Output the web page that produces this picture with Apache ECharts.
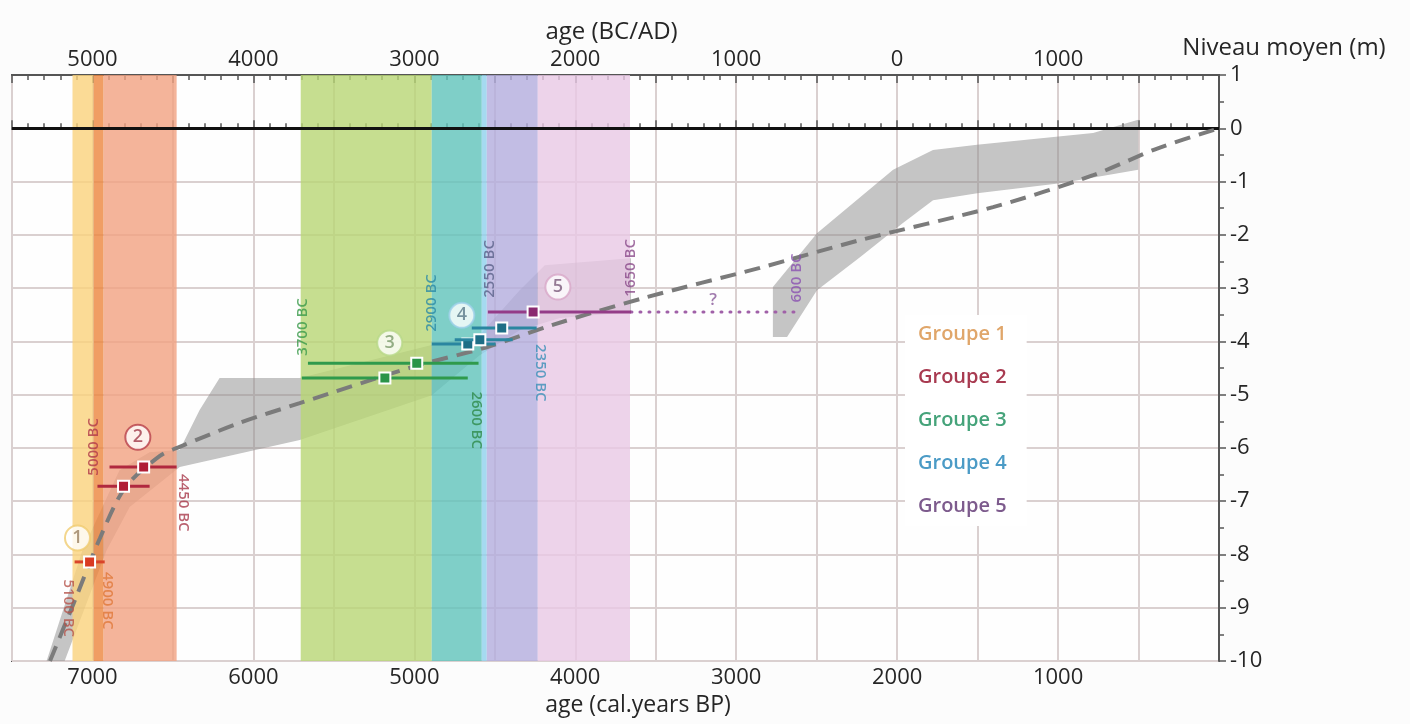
<!DOCTYPE html>
<html><head><meta charset="utf-8">
<script src="https://cdn.jsdelivr.net/npm/echarts@6/dist/echarts.min.js"></script>
<style>html,body{margin:0;padding:0;background:#fcfcfc}#chart{width:1410px;height:724px}</style>
</head><body><div id="chart"></div>
<script>
// ---------------- data ----------------
const groupNames = ['Groupe 1', 'Groupe 2', 'Groupe 3', 'Groupe 4', 'Groupe 5'];
// occupation period of each group, cal. years BP [start, end]
const groupRanges = [[7124, 6931], [6993, 6477], [5706, 4581], [4892, 4233], [4550, 3660]];
// dated levels: [from BP, to BP, level (m), central BP]
const g1Points = [[7111, 6924, -8.14, 7018]];
const g2Points = [[6894, 6477, -6.36, 6682], [6969, 6645, -6.72, 6807]];
const g3Points = [[5661, 4601, -4.41, 4985], [5699, 4668, -4.69, 5183]];
const g4Points = [[4892, 4495, -4.05, 4668], [4749, 4389, -3.97, 4593], [4643, 4240, -3.75, 4457]];
const g5Points = [[4543, 3654, -3.45, 4262]];
const g5Extension = [[3654, -3.45], [2604, -3.45]];
// mean sea-level curve (dashed)
const seaLevelCurve = [[7264, -10], [7109, -8.86], [6953, -7.69], [6798, -6.75], [6581, -6.15], [6458, -5.98],
  [6085, -5.53], [5712, -5.16], [5010, -4.48], [4551, -4.11], [4140, -3.69], [3580, -3.19], [2853, -2.62],
  [2231, -2.10], [1404, -1.48], [782, -0.88], [384, -0.38], [0, 0]];
// uncertainty envelopes (upper edge then lower edge)
const envelopeA = [[7285, -10], [7062, -7.92], [6938, -7.11], [6832, -6.42], [6645, -6.08], [6458, -6.04],
  [6334, -5.29], [6210, -4.69], [5712, -4.69], [4892, -4.07], [4594, -3.88], [4345, -3.04], [4189, -2.57], [3654, -2.44],
  [3654, -3.45], [4096, -3.56], [4345, -3.79], [4594, -4.26], [4892, -5.01], [5712, -5.85], [6458, -6.36],
  [6769, -7.11], [6912, -7.92], [7173, -10]];
const envelopeB = [[2772, -2.98], [2498, -1.97], [2025, -0.78], [1777, -0.41], [1503, -0.31], [782, -0.09], [502, 0.16],
  [502, -0.78], [987, -1.03], [1503, -1.22], [1777, -1.35], [1964, -1.78], [2231, -2.42], [2498, -3.04], [2684, -3.92], [2772, -3.92]];
// circled group numbers [BP, m, text]
const circleLabels = [[7093, -7.69, '1'], [6718, -5.80, '2'], [5153, -4.03, '3'], [4705, -3.51, '4'], [4108, -2.98, '5']];
// date annotations [BP, m, text]
const dateLabels = [[7152, -9.01, '5100 BC'], [6910, -8.87, '4900 BC'], [6990, -5.98, '5000 BC'], [6437, -7.03, '4450 BC'],
  [5692, -3.73, '3700 BC'], [4617, -5.48, '2600 BC'], [4890, -3.28, '2900 BC'], [4219, -4.59, '2350 BC'],
  [4530, -2.64, '2550 BC'], [3654, -2.62, '1650 BC'], [2622, -2.81, '600 BC'], [3144, -3.22, '?']];
// calendar (BC/AD) axis range, signed years (negative = BC)
const calendarRange = [-5500, 2000];

// ---------------- styles ----------------
const FONT = '"Open Sans", sans-serif';
const bandColors = { '1': '#fad27c', '1+2': '#ec863d', '2': '#f1a181', '3': '#b8d674', '3+4': '#5fc3ba', '4': '#8ed1ec', '4+5': '#b3acdd', '5': '#e8c8e5' };
const barColors = ['#d9442a', '#b0283e', '#2f9a4c', '#2a86a0', '#943c88'];
const squareColors = ['#d93a22', '#b01e36', '#2a9448', '#1e6e86', '#8a2a70'];
const legendColors = ['#e0a66a', '#a83a50', '#45a37a', '#4b9bc6', '#7d5b8d'];
const circleBorder = ['#f0cc70', '#b8404a', '#b8d888', '#9cd0e8', '#d8a8c8'];
const circleText = ['#9a8060', '#a03a48', '#7a9a6a', '#5a7a8a', '#7a5a7a'];
const dateLabelColors = ['#b5534a', '#e07838', '#b0384a', '#a8384a', '#3a9a4a', '#2e8a48', '#2a8aa6', '#3a90b8', '#5a6088', '#8a4a8a', '#8a50b0', '#8a5a9a'];
const dateLabelRotate = [-90, -90, 90, -90, 90, -90, 90, -90, 90, 90, 90, 0];

// band segments derived from group ranges (overlaps get their own tint)
const bounds = [...new Set(groupRanges.flat())].sort((a, b) => b - a);
const bandSegs = [];
for (let i = 0; i < bounds.length - 1; i++) {
  const a = bounds[i], b = bounds[i + 1], mid = (a + b) / 2;
  const active = groupRanges.map((r, gi) => (mid <= r[0] && mid >= r[1]) ? gi + 1 : 0).filter(Boolean);
  if (active.length) bandSegs.push({ from: a, to: b, key: active.join('+') });
}

function errorBarSeries(idx, data) {
  return {
    name: groupNames[idx], type: 'custom', z: 7,
    data: data,
    encode: { x: [0, 1, 3], y: 2 },
    renderItem: function (params, api) {
      const y = api.value(2);
      const lo = api.coord([api.value(0), y]);
      const hi = api.coord([api.value(1), y]);
      const c = api.coord([api.value(3), y]);
      const s = 11;
      return {
        type: 'group', children: [
          { type: 'line', shape: { x1: lo[0], y1: lo[1], x2: hi[0], y2: hi[1] }, style: { stroke: barColors[idx], lineWidth: 3 } },
          { type: 'rect', shape: { x: c[0] - s / 2, y: c[1] - s / 2, width: s, height: s }, style: { fill: squareColors[idx], stroke: '#ffffff', lineWidth: 2 } }
        ]
      };
    }
  };
}

const tickText = { fontFamily: FONT, fontSize: 22, color: '#262626' };
const axisLineStyle = { color: '#555', width: 2 };
const tickStyle = { color: '#555', width: 1.5 };

const option = {
  backgroundColor: '#fcfcfc',
  animation: false,
  textStyle: { fontFamily: FONT },
  grid: { left: 12, right: 191, top: 75, bottom: 63, show: true, borderColor: '#555', borderWidth: 2, backgroundColor: '#fefefe' },
  legend: {
    orient: 'vertical', left: 905, top: 315, icon: 'none', itemWidth: 0, itemHeight: 14, itemGap: 21,
    padding: [8, 20, 9, 8], backgroundColor: '#ffffff', selectedMode: false,
    data: groupNames.map((n, i) => ({ name: n, textStyle: { color: legendColors[i] } })),
    textStyle: { fontFamily: FONT, fontSize: 20, fontWeight: 600, lineHeight: 22 }
  },
  xAxis: [{
    type: 'value', position: 'bottom', min: 0, max: 7500, inverse: true, interval: 500,
    name: 'age (cal.years BP)', nameLocation: 'middle', nameGap: 33,
    nameTextStyle: { fontFamily: FONT, fontSize: 23, color: '#262626', padding: [0, 0, 0, 45] },
    axisLine: { show: true, lineStyle: axisLineStyle },
    axisTick: { show: true, inside: true, length: 8, lineStyle: tickStyle },
    minorTick: { show: true, splitNumber: 5, length: 5, lineStyle: tickStyle },
    axisLabel: Object.assign({}, tickText, { margin: 6, formatter: v => (v % 1000 === 0 && v > 0 && v < 7500) ? String(v) : '' }),
    splitLine: { show: true, lineStyle: { color: '#dad0d0', width: 2 } }
  }, {
    type: 'value', position: 'top', min: calendarRange[0], max: calendarRange[1], interval: 500,
    name: 'age (BC/AD)', nameLocation: 'middle', nameGap: 30,
    nameTextStyle: { fontFamily: FONT, fontSize: 24, color: '#262626', padding: [0, 8, 0, 0] },
    axisLine: { show: true, lineStyle: axisLineStyle },
    axisTick: { show: true, inside: true, length: 8, lineStyle: tickStyle },
    minorTick: { show: true, splitNumber: 5, length: 5, lineStyle: tickStyle },
    axisLabel: Object.assign({}, tickText, {
      margin: 4,
      formatter: v => (v % 1000 === 0 && v > calendarRange[0] && v < calendarRange[1]) ? String(Math.abs(v)) : ''
    }),
    splitLine: { show: false }
  }],
  yAxis: {
    type: 'value', position: 'right', min: -10, max: 1, interval: 1,
    name: 'Niveau moyen (m)', nameLocation: 'end', nameGap: 15,
    nameTextStyle: { fontFamily: FONT, fontSize: 24, color: '#262626', align: 'center', verticalAlign: 'bottom', padding: [0, 0, 0, 130] },
    axisLine: { show: true, lineStyle: axisLineStyle },
    axisTick: { show: true, inside: false, length: 7, lineStyle: tickStyle },
    minorTick: { show: true, splitNumber: 2, length: 5, lineStyle: tickStyle },
    axisLabel: Object.assign({}, tickText, { margin: 11 }),
    splitLine: { show: true, lineStyle: { color: '#dad0d0', width: 2 } }
  },
  series: [
    {
      type: 'custom', name: 'envelope', z: 1, silent: true, clip: true,
      data: [[0], [1]],
      renderItem: function (params, api) {
        const env = [envelopeA, envelopeB][params.dataIndex];
        return { type: 'polygon', shape: { points: env.map(p => api.coord(p)) }, style: { fill: 'rgba(140,140,140,0.5)' } };
      }
    },
    {
      type: 'custom', name: 'bands', z: 2, silent: true,
      data: bandSegs.map((s, i) => [s.from, s.to, i]),
      encode: { x: [0, 1] },
      renderItem: function (params, api) {
        const cs = params.coordSys;
        const x1 = api.coord([api.value(0), 0])[0];
        const x2 = api.coord([api.value(1), 0])[0];
        const seg = bandSegs[api.value(2)];
        return { type: 'rect', shape: { x: Math.min(x1, x2), y: cs.y, width: Math.abs(x2 - x1), height: cs.height }, style: { fill: bandColors[seg.key], opacity: 0.8 } };
      }
    },
    {
      type: 'line', name: 'curve', z: 5, silent: true, data: seaLevelCurve, smooth: 0.3, symbol: 'none',
      lineStyle: { color: '#7b7b7b', width: 4, type: [16, 9] },
      markLine: { silent: true, symbol: 'none', label: { show: false }, lineStyle: { color: '#111', width: 3, type: 'solid' }, data: [{ yAxis: 0 }] }
    },
    {
      type: 'line', name: 'extension', z: 6, silent: true, data: g5Extension, symbol: 'none',
      lineStyle: { color: '#a060a8', width: 3, type: [1, 8], cap: 'round' }
    },
    errorBarSeries(0, g1Points),
    errorBarSeries(1, g2Points),
    errorBarSeries(2, g3Points),
    errorBarSeries(3, g4Points),
    errorBarSeries(4, g5Points),
    {
      type: 'scatter', name: 'circles', z: 8, silent: true, symbol: 'circle', symbolSize: 25,
      data: circleLabels.map((c, i) => ({
        name: c[2], value: [c[0], c[1]],
        itemStyle: { color: '#ffffff', borderColor: circleBorder[i], borderWidth: 2 },
        label: { color: circleText[i] }
      })),
      label: { show: true, position: 'inside', formatter: p => p.name, fontFamily: FONT, fontSize: 18, fontWeight: 600 }
    },
    {
      type: 'scatter', name: 'dates', z: 9, silent: true, symbol: 'circle', symbolSize: 1,
      itemStyle: { color: 'rgba(0,0,0,0)' },
      data: dateLabels.map((d, i) => ({
        name: d[2], value: [d[0], d[1]],
        label: { color: dateLabelColors[i], rotate: dateLabelRotate[i], fontSize: d[2] === '?' ? 17 : 15 }
      })),
      label: { show: true, position: 'inside', formatter: p => p.name, fontFamily: FONT, fontWeight: 600 }
    }
  ]
};

const chart = echarts.init(document.getElementById('chart'), null, { renderer: 'canvas' });
chart.setOption(option);
</script>
</body></html>
